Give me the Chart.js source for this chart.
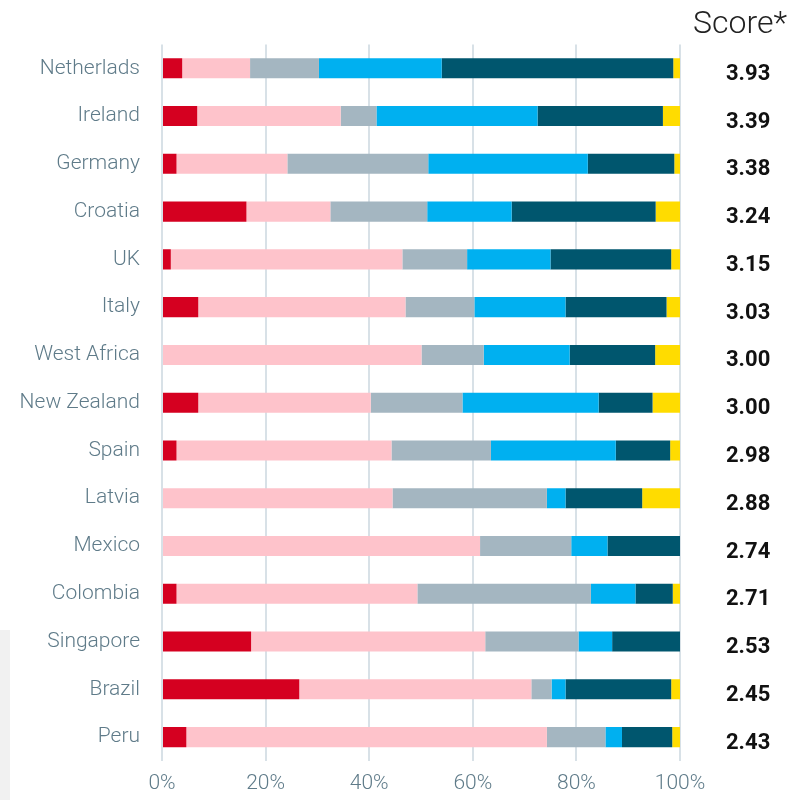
<!DOCTYPE html>
<html>
<head>
  <title>Score by country</title>
  <meta charset="UTF-8">
  <script src="https://cdn.jsdelivr.net/npm/chart.js"></script>
  <style>
    body {
      margin: 0;
      padding: 0;
      background-color: white;
    }
    .chart-container {
      width: 790px;
      height: 800px;
    }
  </style>
</head>
<body>
  <div class="chart-container">
    <canvas id="scoreChart" width="790" height="800"></canvas>
  </div>

  <script>
    // Categories and scores (right column)
    const countries = ['Netherlads', 'Ireland', 'Germany', 'Croatia', 'UK', 'Italy', 'West Africa',
      'New Zealand', 'Spain', 'Latvia', 'Mexico', 'Colombia', 'Singapore', 'Brazil', 'Peru'];
    const scores = ['3.93', '3.39', '3.38', '3.24', '3.15', '3.03', '3.00',
      '3.00', '2.98', '2.88', '2.74', '2.71', '2.53', '2.45', '2.43'];

    // Share of answers per level (%)
    const level1 = [3.9, 6.8, 2.8, 16.3, 1.7, 7.0, 0, 7.0, 2.8, 0, 0, 2.8, 17.2, 26.5, 4.7];
    const level2 = [13.1, 27.7, 21.4, 16.2, 44.7, 40.0, 50.1, 33.3, 41.5, 44.5, 61.4, 46.5, 45.2, 44.8, 69.6];
    const level3 = [13.3, 6.9, 27.2, 18.7, 12.5, 13.3, 12.0, 17.7, 19.2, 29.8, 17.6, 33.5, 18.0, 3.9, 11.3];
    const level4 = [23.7, 31.1, 30.8, 16.3, 16.1, 17.6, 16.6, 26.3, 24.1, 3.6, 7.0, 8.6, 6.5, 2.7, 3.2];
    const level5 = [44.7, 24.2, 16.7, 27.8, 23.3, 19.5, 16.5, 10.4, 10.5, 14.8, 14.0, 7.2, 13.1, 20.4, 9.7];
    const level6 = [1.3, 3.3, 1.1, 4.7, 1.7, 2.6, 4.8, 5.3, 1.9, 7.3, 0, 1.4, 0, 1.7, 1.5];

    // x-axis ticks
    const xTicks = [0, 20, 40, 60, 80, 100];

    const colors = ['#d50020', '#fec3cb', '#a4b6c1', '#00b0f0', '#00566e', '#ffdc00'];
    const series = [level1, level2, level3, level4, level5, level6];

    const fontFamily = 'Roboto, "Noto Sans", sans-serif';
    const labelColor = '#5f7b89';

    // light grey strip at the bottom left edge
    const edgeStrip = {
      id: 'edgeStrip',
      beforeDraw(chart) {
        const ctx = chart.ctx;
        ctx.save();
        ctx.fillStyle = '#f1f1f1';
        ctx.fillRect(0, 630, 10, chart.height - 630);
        ctx.restore();
      }
    };

    // fixed axis width, and no extra top/bottom padding from the tick labels
    const fixWidth = (w) => (scale) => {
      scale.width = w;
      scale.paddingTop = 0;
      scale.paddingBottom = 0;
    };

    const ctx = document.getElementById('scoreChart').getContext('2d');
    new Chart(ctx, {
      type: 'bar',
      data: {
        labels: countries,
        datasets: series.map((d, i) => ({
          label: 'Level ' + (i + 1),
          data: d,
          backgroundColor: colors[i],
          borderWidth: 0,
          barPercentage: 0.42,
          categoryPercentage: 1
        }))
      },
      options: {
        indexAxis: 'y',
        responsive: false,
        animation: false,
        layout: {
          padding: { left: 0, right: 3, top: 0, bottom: 0 }
        },
        scales: {
          x: {
            stacked: true,
            min: 0,
            max: 100,
            afterBuildTicks: (scale) => {
              scale.ticks = xTicks.map(v => ({ value: v }));
            },
            afterFit: (scale) => { scale.height = 39; },
            grid: {
              color: '#d8e1e7',
              lineWidth: 2,
              drawTicks: false
            },
            border: { display: false },
            ticks: {
              padding: 10,
              color: labelColor,
              font: { family: fontFamily, size: 21, weight: 300 },
              callback: (v) => v + '%'
            }
          },
          y: {
            stacked: true,
            grid: { display: false, drawTicks: false },
            border: { display: false },
            afterFit: fixWidth(162),
            ticks: {
              padding: 22,
              color: labelColor,
              font: { family: fontFamily, size: 21, weight: 300 }
            }
          },
          y2: {
            type: 'category',
            axis: 'y',
            position: 'right',
            labels: scores,
            offset: true,
            grid: { display: false, drawTicks: false },
            border: { display: false },
            afterFit: fixWidth(107),
            ticks: {
              crossAlign: 'center',
              padding: 46,
              labelOffset: 6,
              color: '#111111',
              font: { family: fontFamily, size: 22, weight: 'bold' }
            }
          }
        },
        plugins: {
          legend: { display: false },
          tooltip: { enabled: false },
          title: {
            display: true,
            text: 'Score*',
            align: 'end',
            color: '#222222',
            font: { family: fontFamily, size: 32, weight: 300 },
            padding: { top: 6, bottom: 0 }
          }
        }
      },
      plugins: [edgeStrip]
    });
  </script>
</body>
</html>
